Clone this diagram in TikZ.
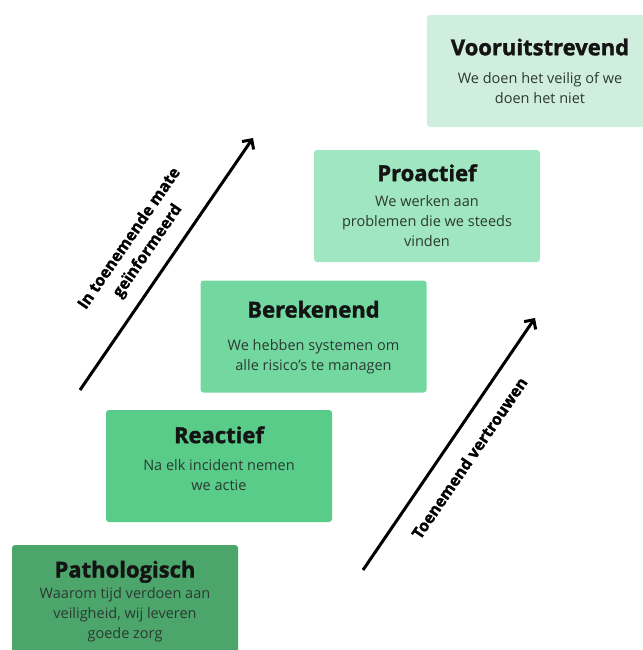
\documentclass[tikz,border=0pt]{standalone}
\usepackage{fontspec}
\setmainfont{Open Sans}
\newfontfamily\zwaar{Open Sans}[BoldFeatures={FakeBold=1.5}]
\usetikzlibrary{positioning,arrows.meta}
\definecolor{pathogroen}{HTML}{4CA66C}
\definecolor{reactgroen}{HTML}{58CC88}
\definecolor{berekgroen}{HTML}{72D8A0}
\definecolor{progroen}{HTML}{A0E6C0}
\definecolor{voorgroen}{HTML}{CFEEDD}
\definecolor{tekstkleur}{HTML}{2B3A31}
\begin{document}
\begin{tikzpicture}[x=1pt,y=-1pt] % trap van veiligheidscultuur
\tikzstyle{stage} = [rectangle, rounded corners=3pt, minimum width=226pt, minimum height=112pt, inner sep=0pt] % blok van een trede
\tikzstyle{kop} = [font=\fontsize{22}{26}\zwaar\bfseries, text=black!92, inner sep=0pt] % titel van de trede
\tikzstyle{tekst} = [font=\fontsize{14.5}{20}\selectfont, text=tekstkleur, align=center, inner sep=0pt] % uitleg
\tikzstyle{pijl} = [line width=3pt, -{Straight Barb[length=7pt,width=14pt,line width=3pt]}] % schuine pijl
\tikzstyle{pijltekst} = [font=\fontsize{16}{22}\zwaar\bfseries, align=center, sloped, inner sep=0pt]

\useasboundingbox (0,0) rectangle (642,650);

% treden, van onder naar boven
\node[stage, fill=pathogroen] (patho) at (125,601) {};
\node[kop] (pathokop) at ([yshift=-27pt]patho.north) {Pathologisch};
\node[tekst, below=4pt of pathokop] (pathotekst) {Waarom tijd verdoen aan\\veiligheid, wij leveren\\goede zorg};

\node[stage, fill=reactgroen] (react) at (219,466) {};
\node[kop] (reactkop) at ([yshift=-25pt]react.north) {Reactief};
\node[tekst, below=16pt of reactkop] (reacttekst) {Na elk incident nemen\\we actie};

\node[stage, fill=berekgroen] (berek) at (313.5,336.5) {};
\node[kop] (berekkop) at ([yshift=-29pt]berek.north) {Berekenend};
\node[tekst, below=21pt of berekkop] (berektekst) {We hebben systemen om\\alle risico's te managen};

\node[stage, fill=progroen] (pro) at (427,206) {};
\node[kop] (prokop) at ([yshift=-23pt]pro.north) {Proactief};
\node[tekst, below=14pt of prokop] (protekst) {We werken aan\\problemen die we steeds\\vinden};

\node[stage, fill=voorgroen] (voor) at (540,71) {};
\node[kop] (voorkop) at (540,47) {Vooruitstrevend};
\node[tekst, below=17pt of voorkop] (voortekst) {We doen het veilig of we\\doen het niet};

% pijlen
\coordinate (pijl1start) at (80,390);
\coordinate (pijl1eind) at (253,138);
\coordinate (pijl2start) at (363,570);
\coordinate (pijl2eind) at (535,318);
\draw[pijl] (pijl1start) -- node[pijltekst, above=13pt, midway] (info) {In toenemende mate\\geïnformeerd} (pijl1eind);
\draw[pijl] (pijl2start) -- node[pijltekst, below=17pt, midway] (vertrouwen) {Toenemend vertrouwen} (pijl2eind);
\end{tikzpicture}
\end{document}
